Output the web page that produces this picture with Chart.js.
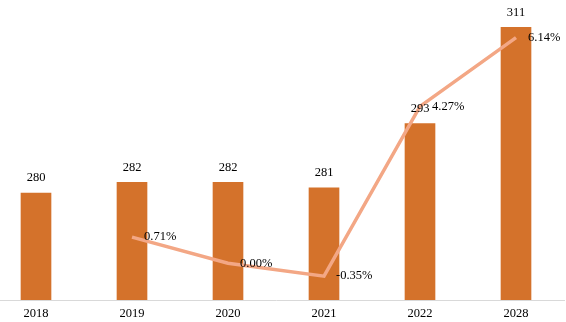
<!DOCTYPE html>
<html>
<head>
<meta charset="utf-8">
<script src="https://cdn.jsdelivr.net/npm/chart.js@4"></script>
<style>
  html, body { margin: 0; padding: 0; background: #fff; overflow: hidden; }
  .canvas-container { width: 566px; height: 322px; overflow: hidden; }
  #myChart { margin-left: -12px; display: block; }
</style>
</head>
<body>
<div class="canvas-container"><canvas id="myChart"></canvas></div>
<script>
//chart data
const years = ["2018", "2019", "2020", "2021", "2022", "2028"];
const volumes = [280, 282, 282, 281, 293, 311];
const growth = [null, 0.71, 0.0, -0.35, 4.27, 6.14];

//draws the value labels next to bars and points
const valueLabels = {
  id: "valueLabels",
  afterDatasetsDraw(chart) {
    const ctx = chart.ctx;
    ctx.save();
    ctx.font = "12.5px 'Liberation Serif'";
    ctx.fillStyle = "#000";
    ctx.textBaseline = "middle";

    chart.getDatasetMeta(0).data.forEach((pt, i) => {
      if (growth[i] === null) return;
      ctx.textAlign = "left";
      ctx.fillText(growth[i].toFixed(2) + "%", pt.x + 12, pt.y);
    });

    chart.getDatasetMeta(1).data.forEach((bar, i) => {
      ctx.textAlign = "center";
      ctx.fillText(String(volumes[i]), bar.x, bar.y - 15);
    });
    ctx.restore();
  },
};

const data = {
  labels: years,
  datasets: [
    {
      type: "line",
      data: growth,
      yAxisID: "y2",
      borderColor: "#F3A785",
      borderWidth: 3.5,
      pointRadius: 0,
      tension: 0,
      order: 0,
    },
    {
      type: "bar",
      data: volumes,
      yAxisID: "y",
      backgroundColor: "#D4722B",
      barThickness: 30,
      order: 1,
    },
  ],
};

const config = {
  data: data,
  plugins: [valueLabels],
  options: {
    responsive: false,
    animation: false,
    maintainAspectRatio: false,
    layout: { padding: { left: 0, right: 2, top: 6, bottom: 0 } },
    plugins: { legend: { display: false }, tooltip: { enabled: false } },
    scales: {
      x: {
        grid: { display: false, drawTicks: false },
        border: { display: true, color: "#D9D9D9", width: 1 },
        ticks: {
          color: "#000",
          padding: 6,
          font: { family: "'Liberation Serif'", size: 12.5 },
        },
        afterFit: (scale) => {
          scale.height = 22;
        },
      },
      y: { display: false, min: 260, max: 315 },
      y2: { display: false, min: -1, max: 7 },
    },
  },
};

const canvas = document.getElementById("myChart");
canvas.width = 578;
canvas.height = 322;
const myChart = new Chart(canvas, config);
</script>
</body>
</html>
